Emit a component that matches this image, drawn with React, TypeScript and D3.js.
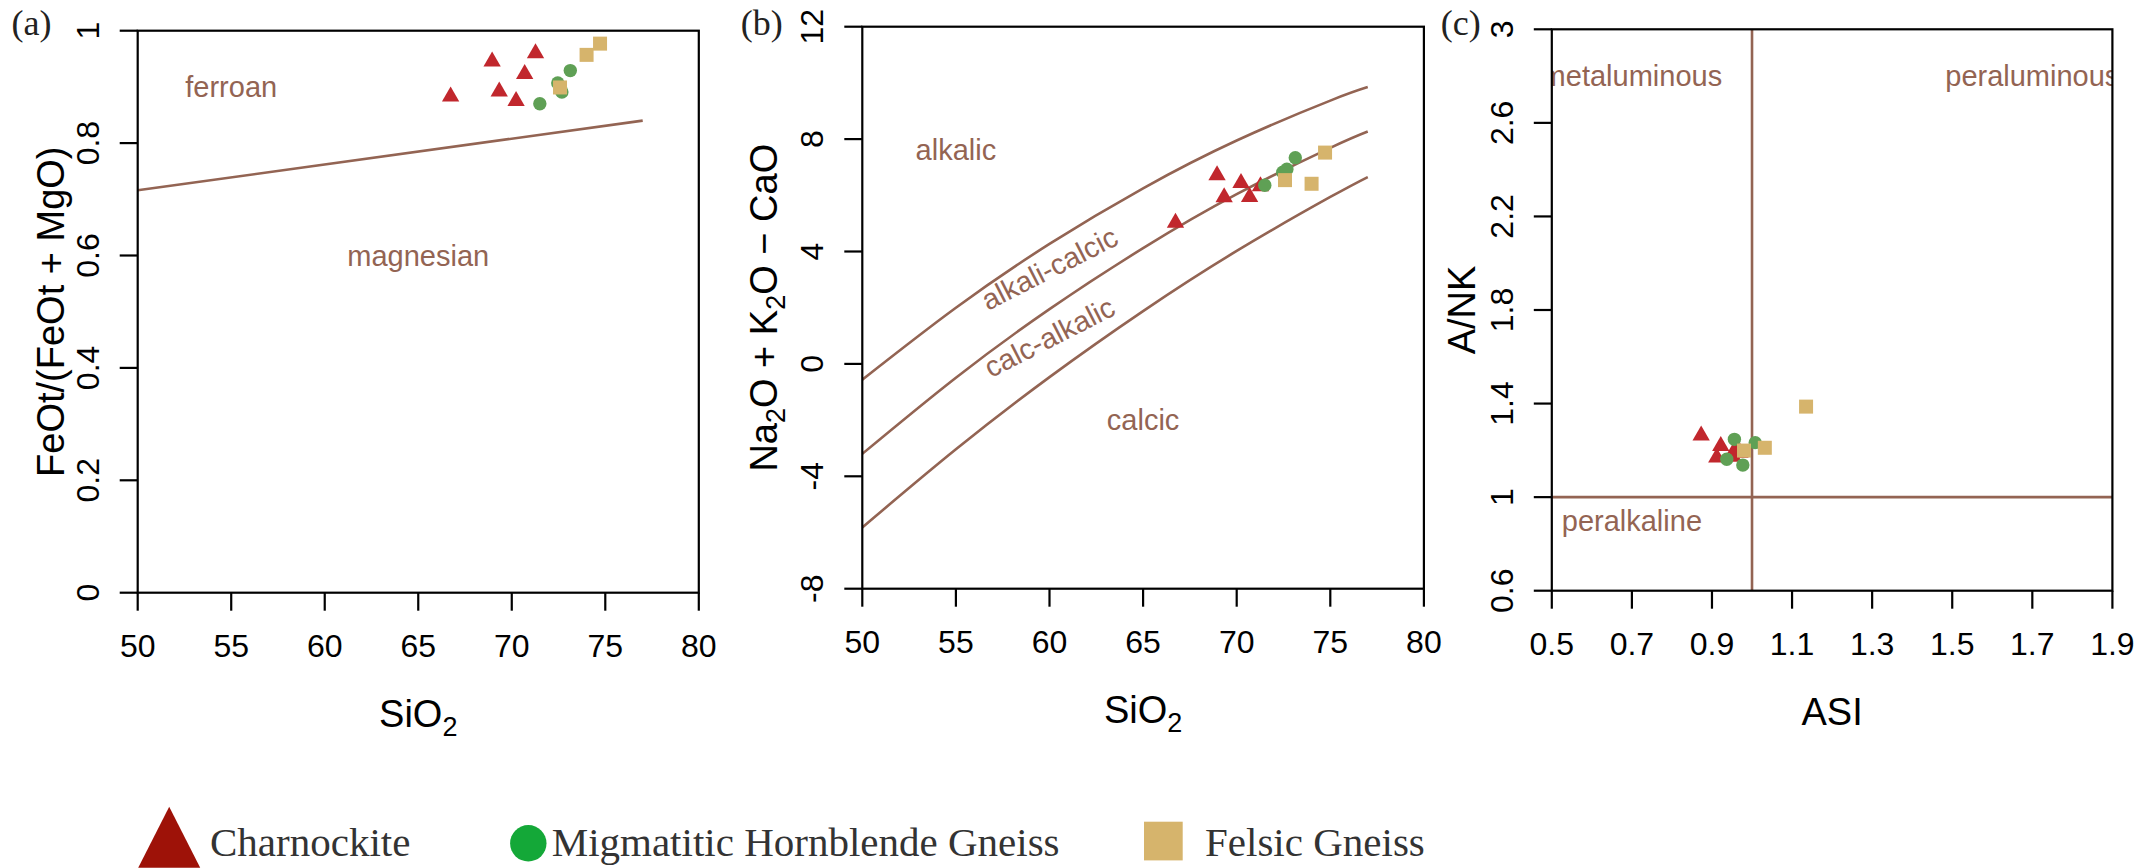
import React from 'react';
import * as d3 from 'd3';

const W = 2141;
const H = 868;
const SANS = '"Liberation Sans", Arial, Helvetica, sans-serif';
const SERIF = '"Liberation Serif", "Times New Roman", serif';
const BROWN = '#936453';
const COL_TRI = '#C1272D';
const COL_CIR = '#5FA055';
const COL_SQ = '#D6B46C';
const LEG_TRI = '#9E1208';
const LEG_CIR = '#14A838';
const LEG_SQ = '#D6B46C';

// ---------- data ----------
const charnockiteSiO2 = [66.73, 68.95, 69.33, 70.23, 70.69, 71.27];
const charnockiteFe = [0.883, 0.945, 0.892, 0.875, 0.923, 0.96];
const charnockiteMALI = [5.02, 6.71, 5.93, 6.44, 5.94, 6.32];
const charnockiteASI = [0.873, 0.922, 0.912, 0.953, 0.97, 0.96];
const charnockiteANK = [1.263, 1.219, 1.169, 1.173, 1.19, 1.21];

const hornblendeSiO2 = [71.5, 73.13, 72.46, 72.68];
const hornblendeFe = [0.87, 0.929, 0.907, 0.891];
const hornblendeMALI = [6.36, 7.34, 6.82, 6.93];
const hornblendeASI = [0.956, 1.008, 0.937, 0.977];
const hornblendeANK = [1.247, 1.233, 1.162, 1.137];

const felsicSiO2 = [74.72, 74.0, 72.58];
const felsicFe = [0.977, 0.957, 0.899];
const felsicMALI = [7.52, 6.41, 6.54];
const felsicASI = [1.135, 0.98, 1.032];
const felsicANK = [1.387, 1.199, 1.211];

// boundary lines
const feBoundarySiO2 = [50, 77];
const feBoundaryValue = [0.716, 0.84];
const maliSiO2 = [50, 55, 60, 65, 70, 75, 77];
const maliAlkalic = [-0.56, 2.0, 4.27, 6.25, 7.95, 9.37, 9.85];
const maliAlkaliCalcic = [-3.2, -0.49, 1.95, 4.12, 6.04, 7.69, 8.27];
const maliCalcAlkalic = [-5.82, -3.04, -0.47, 1.88, 4.02, 5.94, 6.65];

const siTicks = [50, 55, 60, 65, 70, 75, 80];
const feTicks = [0, 0.2, 0.4, 0.6, 0.8, 1];
const feTickLabels = ['0', '0.2', '0.4', '0.6', '0.8', '1'];
const maliTicks = [-8, -4, 0, 4, 8, 12];
const asiTicks = [0.5, 0.7, 0.9, 1.1, 1.3, 1.5, 1.7, 1.9];
const ankTicks = [0.6, 1, 1.4, 1.8, 2.2, 2.6, 3];
const ankTickLabels = ['0.6', '1', '1.4', '1.8', '2.2', '2.6', '3'];

const legendLabels = ['Charnockite', 'Migmatitic Hornblende Gneiss', 'Felsic Gneiss'];

// ---------- layout ----------
type Box = { left: number; right: number; top: number; bottom: number };
const boxA: Box = { left: 137.7, right: 698.8, top: 30.7, bottom: 592.7 };
const boxB: Box = { left: 862.3, right: 1423.9, top: 26.7, bottom: 588.7 };
const boxC: Box = { left: 1551.8, right: 2112.4, top: 29.3, bottom: 590.7 };

const TICK = 18;
const TICK_FS = 32;
const TITLE_FS = 38;
const REGION_FS = 29;

const triPath = (r: number) => {
  const p = d3.path();
  p.moveTo(0, -r);
  p.lineTo(r * 0.866, r / 2);
  p.lineTo(-r * 0.866, r / 2);
  p.closePath();
  return p.toString();
};

function Axes({ box, x, y, xTicks, yTicks, xLabels, yLabels }: any) {
  return (
    <g>
      <rect x={box.left} y={box.top} width={box.right - box.left} height={box.bottom - box.top}
        fill="none" stroke="#000" strokeWidth={2.2} />
      {xTicks.map((t: number, i: number) => (
        <g key={'x' + i}>
          <line x1={x(t)} x2={x(t)} y1={box.bottom} y2={box.bottom + TICK} stroke="#000" strokeWidth={2.2} />
          <text x={x(t)} y={box.bottom + 64} textAnchor="middle" fontFamily={SANS} fontSize={TICK_FS}>
            {xLabels ? xLabels[i] : String(t)}
          </text>
        </g>
      ))}
      {yTicks.map((t: number, i: number) => (
        <g key={'y' + i}>
          <line x1={box.left - TICK} x2={box.left} y1={y(t)} y2={y(t)} stroke="#000" strokeWidth={2.2} />
          <text transform={`translate(${box.left - 39},${y(t)}) rotate(-90)`} textAnchor="middle"
            fontFamily={SANS} fontSize={TICK_FS}>
            {yLabels ? yLabels[i] : String(t)}
          </text>
        </g>
      ))}
    </g>
  );
}

function Points({ x, y, xs1, ys1, xs2, ys2, xs3, ys3 }: any) {
  const tri = triPath(10);
  return (
    <g>
      {xs1.map((v: number, i: number) => (
        <path key={'t' + i} d={tri} transform={`translate(${x(v)},${y(ys1[i])})`} fill={COL_TRI} />
      ))}
      {xs2.map((v: number, i: number) => (
        <circle key={'c' + i} cx={x(v)} cy={y(ys2[i])} r={6.7} fill={COL_CIR} />
      ))}
      {xs3.map((v: number, i: number) => (
        <rect key={'s' + i} x={x(v) - 7} y={y(ys3[i]) - 7} width={14} height={14} fill={COL_SQ} />
      ))}
    </g>
  );
}

function PanelLabel({ x, text }: { x: number; text: string }) {
  return (
    <text x={x} y={35} fontFamily={SERIF} fontSize={36} fill="#222">{text}</text>
  );
}

function SiO2Title({ cx, y }: { cx: number; y: number }) {
  return (
    <text x={cx} y={y} textAnchor="middle" fontFamily={SANS} fontSize={TITLE_FS}>
      SiO<tspan fontSize={27} dy={9}>2</tspan>
    </text>
  );
}

export default function App() {
  // Panel A scales
  const xA = d3.scaleLinear().domain([50, 80]).range([boxA.left, boxA.right]);
  const yA = d3.scaleLinear().domain([0, 1]).range([boxA.bottom, boxA.top]);
  // Panel B
  const xB = d3.scaleLinear().domain([50, 80]).range([boxB.left, boxB.right]);
  const yB = d3.scaleLinear().domain([-8, 12]).range([boxB.bottom, boxB.top]);
  // Panel C
  const xC = d3.scaleLinear().domain([0.5, 1.9]).range([boxC.left, boxC.right]);
  const yC = d3.scaleLinear().domain([0.6, 3]).range([boxC.bottom, boxC.top]);

  const lineA = d3.line<number>().x((d, i) => xA(feBoundarySiO2[i])).y(d => yA(d));
  const curveB = d3.line<number>().x((d, i) => xB(maliSiO2[i])).y(d => yB(d)).curve(d3.curveNatural);

  const midA = (boxA.top + boxA.bottom) / 2;
  const midB = (boxB.top + boxB.bottom) / 2;
  const midC = (boxC.top + boxC.bottom) / 2;

  return (
    <svg width={W} height={H} style={{ position: 'absolute', left: 0, top: 0, background: '#fff' }}
      xmlns="http://www.w3.org/2000/svg">
      <defs>
        <clipPath id="clipC">
          <rect x={boxC.left} y={boxC.top} width={boxC.right - boxC.left} height={boxC.bottom - boxC.top} />
        </clipPath>
        <clipPath id="clipB">
          <rect x={boxB.left} y={boxB.top} width={boxB.right - boxB.left} height={boxB.bottom - boxB.top} />
        </clipPath>
      </defs>
      <rect x={0} y={0} width={W} height={H} fill="#fff" />

      {/* ---------------- Panel A ---------------- */}
      <PanelLabel x={11.5} text="(a)" />
      <path d={lineA(feBoundaryValue) || ''} fill="none" stroke={BROWN} strokeWidth={2.6} />
      <text x={xA(55)} y={yA(0.9) + 10} textAnchor="middle" fontFamily={SANS} fontSize={REGION_FS} fill={BROWN}>ferroan</text>
      <text x={xA(65)} y={yA(0.6) + 10} textAnchor="middle" fontFamily={SANS} fontSize={REGION_FS} fill={BROWN}>magnesian</text>
      <Points x={xA} y={yA} xs1={charnockiteSiO2} ys1={charnockiteFe} xs2={hornblendeSiO2} ys2={hornblendeFe}
        xs3={felsicSiO2} ys3={felsicFe} />
      <Axes box={boxA} x={xA} y={yA} xTicks={siTicks} yTicks={feTicks} yLabels={feTickLabels} />
      <SiO2Title cx={(boxA.left + boxA.right) / 2} y={boxA.bottom + 134} />
      <text transform={`translate(64,${midA}) rotate(-90)`} textAnchor="middle" fontFamily={SANS} fontSize={TITLE_FS}>
        FeOt/(FeOt + MgO)
      </text>

      {/* ---------------- Panel B ---------------- */}
      <PanelLabel x={740.7} text="(b)" />
      <g clipPath="url(#clipB)">
        {[maliAlkalic, maliAlkaliCalcic, maliCalcAlkalic].map((arr, i) => (
          <path key={i} d={curveB(arr) || ''} fill="none" stroke={BROWN} strokeWidth={2.6} />
        ))}
      </g>
      <text x={xB(55)} y={yB(7.6) + 10} textAnchor="middle" fontFamily={SANS} fontSize={REGION_FS} fill={BROWN}>alkalic</text>
      <text x={xB(65)} y={yB(-2) + 10} textAnchor="middle" fontFamily={SANS} fontSize={REGION_FS} fill={BROWN}>calcic</text>
      <text transform={`translate(${xB(60)},${yB(3.4)}) rotate(-27)`} dy={10} textAnchor="middle" fontFamily={SANS}
        fontSize={REGION_FS} fill={BROWN}>alkali-calcic</text>
      <text transform={`translate(${xB(60)},${yB(0.95)}) rotate(-27)`} dy={10} textAnchor="middle" fontFamily={SANS}
        fontSize={REGION_FS} fill={BROWN}>calc-alkalic</text>
      <Points x={xB} y={yB} xs1={charnockiteSiO2} ys1={charnockiteMALI} xs2={hornblendeSiO2} ys2={hornblendeMALI}
        xs3={felsicSiO2} ys3={felsicMALI} />
      <Axes box={boxB} x={xB} y={yB} xTicks={siTicks} yTicks={maliTicks} />
      <SiO2Title cx={(boxB.left + boxB.right) / 2} y={boxB.bottom + 134} />
      <text transform={`translate(777,${midB}) rotate(-90)`} textAnchor="middle" fontFamily={SANS} fontSize={TITLE_FS}>
        Na<tspan fontSize={27} dy={8}>2</tspan><tspan dy={-8}>O + K</tspan><tspan fontSize={27} dy={8}>2</tspan>
        <tspan dy={-8}>O − CaO</tspan>
      </text>

      {/* ---------------- Panel C ---------------- */}
      <PanelLabel x={1440.7} text="(c)" />
      <g clipPath="url(#clipC)">
        <line x1={xC(1)} x2={xC(1)} y1={boxC.top} y2={boxC.bottom} stroke={BROWN} strokeWidth={2.6} />
        <line x1={boxC.left} x2={boxC.right} y1={yC(1)} y2={yC(1)} stroke={BROWN} strokeWidth={2.6} />
        <text x={xC(0.7)} y={yC(2.8) + 10} textAnchor="middle" fontFamily={SANS} fontSize={REGION_FS} fill={BROWN}>metaluminous</text>
        <text x={xC(1.7)} y={yC(2.8) + 10} textAnchor="middle" fontFamily={SANS} fontSize={REGION_FS} fill={BROWN}>peraluminous</text>
        <text x={xC(0.7)} y={yC(0.9) + 10} textAnchor="middle" fontFamily={SANS} fontSize={REGION_FS} fill={BROWN}>peralkaline</text>
      </g>
      <Points x={xC} y={yC} xs1={charnockiteASI} ys1={charnockiteANK} xs2={hornblendeASI} ys2={hornblendeANK}
        xs3={felsicASI} ys3={felsicANK} />
      <Axes box={boxC} x={xC} y={yC} xTicks={asiTicks} yTicks={ankTicks} yLabels={ankTickLabels} />
      <text x={(boxC.left + boxC.right) / 2} y={boxC.bottom + 134} textAnchor="middle" fontFamily={SANS} fontSize={TITLE_FS}>ASI</text>
      <text transform={`translate(1475,${midC}) rotate(-90)`} textAnchor="middle" fontFamily={SANS} fontSize={TITLE_FS}>A/NK</text>

      {/* ---------------- Legend ---------------- */}
      <g>
        <polygon points="169.2,806.7 200.2,867.7 138.2,867.7" fill={LEG_TRI} />
        <text x={210} y={856} fontFamily={SERIF} fontSize={41} fill="#333">{legendLabels[0]}</text>
        <circle cx={528.3} cy={843.3} r={18.2} fill={LEG_CIR} />
        <text x={551.7} y={856} fontFamily={SERIF} fontSize={41} fill="#333">{legendLabels[1]}</text>
        <rect x={1144} y={821.7} width={38.7} height={38.7} fill={LEG_SQ} />
        <text x={1205} y={856} fontFamily={SERIF} fontSize={41} fill="#333">{legendLabels[2]}</text>
      </g>
    </svg>
  );
}
